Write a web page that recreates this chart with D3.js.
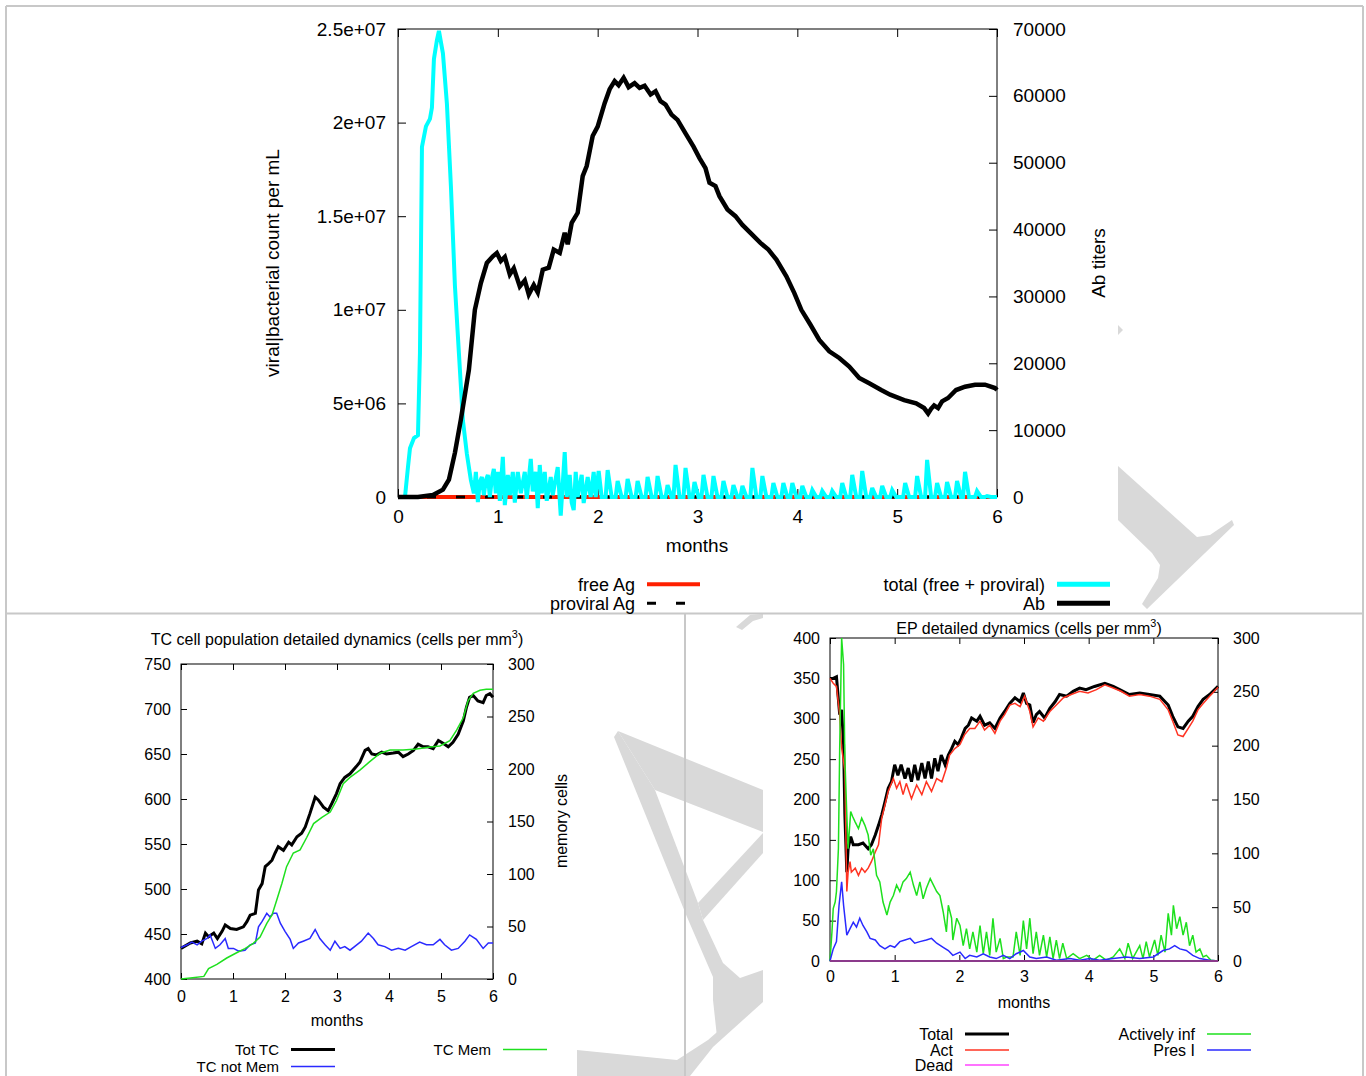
<!DOCTYPE html>
<html>
<head>
<meta charset="utf-8">
<script src="https://cdn.jsdelivr.net/npm/d3@7"></script>
<style>
  body { margin: 0; background: #fff; }
  svg text { font-family: "Liberation Sans", Arial, sans-serif; fill: #000; }
</style>
</head>
<body>
<div id="chart"></div>
<script>
// ---------- data (months, value) ----------
const monthTicks = [0, 1, 2, 3, 4, 5, 6];

// top chart: antigen (left axis) and antibody titers (right axis)
const virusTicks = [0, 5e6, 1e7, 1.5e7, 2e7, 2.5e7];
const virusTickLabels = ["0", "5e+06", "1e+07", "1.5e+07", "2e+07", "2.5e+07"];
const abTicks = [0, 10000, 20000, 30000, 40000, 50000, 60000, 70000];

const freeAg = [[0, 0], [6, 0]];
const proviralAg = [[0, 0], [6, 0]];
const totalAg = [
  [0, 0], [0.07, 0], [0.1, 1.6e6], [0.12, 2.6e6], [0.16, 3.15e6], [0.2, 3.3e6], [0.22, 7.7e6],
  [0.24, 1.87e7], [0.28, 1.98e7], [0.32, 2.02e7], [0.34, 2.08e7], [0.36, 2.34e7], [0.39, 2.44e7],
  [0.41, 2.49e7], [0.45, 2.37e7], [0.49, 2.1e7], [0.53, 1.66e7], [0.57, 1.13e7], [0.61, 7.7e6],
  [0.65, 4.1e6], [0.69, 2.3e6], [0.73, 0.9e6], [0.76, 0.2e6],
  [0.78, 1.34e6], [0.8, -0.27e6], [0.82, 0.8e6], [0.84, 1.07e6], [0.86, 0.1e6], [0.88, 0.9e6],
  [0.9, 1.18e6], [0.92, 0], [0.94, 1.0e6], [0.96, 1.5e6], [0.98, 0.2e6], [1.0, 1.34e6],
  [1.02, -0.2e6], [1.05, 2.14e6], [1.07, -0.43e6], [1.1, 1.18e6], [1.12, 0.1e6], [1.15, 1.34e6],
  [1.17, -0.3e6], [1.2, 1.34e6], [1.23, 0.2e6], [1.27, 1.34e6], [1.29, -0.1e6], [1.33, 2.03e6],
  [1.35, 0.3e6], [1.38, 1.34e6], [1.4, -0.59e6], [1.42, 1.71e6], [1.44, 0.2e6], [1.47, 1.34e6],
  [1.49, -0.2e6], [1.53, 1.07e6], [1.55, 0.1e6], [1.6, 1.6e6], [1.63, -1.0e6], [1.67, 2.4e6],
  [1.69, 0], [1.72, 1.18e6], [1.74, -0.3e6], [1.76, -0.7e6], [1.78, 1.34e6], [1.8, 0],
  [1.84, 1.18e6], [1.86, -0.32e6], [1.9, 1.07e6], [1.93, 0], [1.96, 1.34e6], [1.98, 0],
  [2.01, 1.39e6], [2.04, 0], [2.08, 0], [2.1, 1.44e6], [2.14, 0], [2.18, 0], [2.2, 0.85e6], [2.24, 0],
  [2.28, 0], [2.3, 0.96e6], [2.34, 0], [2.38, 0], [2.4, 0.85e6], [2.44, 0], [2.48, 0], [2.5, 1.07e6],
  [2.54, 0], [2.58, 0], [2.6, 1.12e6], [2.64, 0], [2.68, 0], [2.7, 0.64e6], [2.74, 0], [2.76, 0],
  [2.78, 1.71e6], [2.82, 0], [2.86, 0], [2.88, 1.55e6], [2.92, 0], [2.95, 0], [2.97, 0.8e6], [3.01, 0],
  [3.04, 0], [3.06, 1.18e6], [3.1, 0], [3.14, 0], [3.16, 1.12e6], [3.2, 0], [3.24, 0], [3.26, 0.85e6],
  [3.3, 0], [3.34, 0], [3.36, 0.64e6], [3.4, 0], [3.43, 0], [3.45, 0.59e6], [3.49, 0], [3.53, 0],
  [3.55, 1.55e6], [3.59, 0], [3.63, 0], [3.65, 1.12e6], [3.69, 0], [3.74, 0], [3.76, 0.75e6], [3.8, 0],
  [3.84, 0], [3.86, 0.75e6], [3.9, 0], [3.93, 0], [3.95, 0.75e6], [3.99, 0], [4.03, 0], [4.05, 0.59e6],
  [4.09, 0], [4.13, 0], [4.15, 0.37e6], [4.19, 0], [4.23, 0], [4.25, 0.32e6], [4.29, 0], [4.33, 0],
  [4.35, 0.32e6], [4.39, 0], [4.43, 0], [4.45, 0.75e6], [4.49, 0], [4.53, 0], [4.55, 1.18e6], [4.59, 0],
  [4.63, 0], [4.65, 1.39e6], [4.69, 0], [4.73, 0], [4.75, 0.48e6], [4.79, 0], [4.83, 0], [4.85, 0.59e6],
  [4.89, 0], [4.93, 0], [4.95, 0.37e6], [4.99, 0], [5.06, 0], [5.08, 0.75e6], [5.12, 0], [5.18, 0],
  [5.2, 1.12e6], [5.24, 0], [5.28, 0], [5.3, 1.98e6], [5.34, 0], [5.38, 0], [5.4, 0.75e6], [5.44, 0],
  [5.48, 0], [5.5, 0.8e6], [5.54, 0], [5.58, 0], [5.6, 0.85e6], [5.64, 0], [5.66, 0], [5.68, 1.34e6],
  [5.72, 0], [5.78, 0], [5.8, 0.32e6], [5.84, 0], [5.88, 0], [5.9, 0.05e6], [5.94, 0], [6, 0]
];
const abTiters = [
  [0, 0], [0.2, 0], [0.35, 300], [0.45, 1100], [0.51, 2600], [0.57, 6600], [0.63, 11600], [0.71, 19000],
  [0.77, 28000], [0.83, 32000], [0.89, 35000], [0.95, 36000], [0.99, 36500], [1.03, 35300], [1.07, 35900],
  [1.12, 33300], [1.16, 34200], [1.22, 31500], [1.27, 32400], [1.31, 30300], [1.36, 31700], [1.4, 30600],
  [1.45, 34000], [1.51, 34300], [1.56, 37000], [1.62, 36500], [1.67, 39500], [1.7, 37800], [1.74, 41000],
  [1.8, 42500], [1.85, 48000], [1.89, 49500], [1.95, 54000], [2.0, 55400], [2.07, 58900], [2.12, 61000],
  [2.17, 62200], [2.21, 61600], [2.26, 62700], [2.31, 61300], [2.37, 61900], [2.42, 61200], [2.47, 61500],
  [2.53, 60200], [2.58, 60700], [2.63, 59200], [2.68, 58700], [2.74, 57200], [2.8, 56400], [2.88, 54400],
  [2.96, 52400], [3.02, 50700], [3.08, 49200], [3.12, 47000], [3.18, 46500], [3.22, 45000], [3.3, 43000],
  [3.38, 42000], [3.45, 40700], [3.53, 39500], [3.63, 38000], [3.71, 37000], [3.79, 35500], [3.89, 33000],
  [3.97, 30500], [4.04, 28000], [4.13, 25800], [4.22, 23500], [4.32, 21800], [4.42, 20800], [4.52, 19500],
  [4.62, 17800], [4.72, 17000], [4.84, 16000], [4.93, 15300], [5.07, 14500], [5.19, 14000], [5.27, 13300],
  [5.31, 12500], [5.34, 13200], [5.37, 13700], [5.41, 13300], [5.45, 14300], [5.51, 14800], [5.59, 16000],
  [5.68, 16500], [5.78, 16800], [5.88, 16800], [5.98, 16300], [6, 16000]
];

// bottom left: TC cells (left axis) and memory cells (right axis)
const tcTicks = [400, 450, 500, 550, 600, 650, 700, 750];
const memTicks = [0, 50, 100, 150, 200, 250, 300];
const totTC = [
  [0, 434], [0.18, 440], [0.31, 442], [0.4, 439], [0.47, 451], [0.53, 447], [0.63, 451], [0.7, 445],
  [0.79, 453], [0.85, 460], [0.95, 456], [1.07, 455], [1.2, 458], [1.27, 464], [1.33, 471], [1.43, 473],
  [1.49, 499], [1.56, 506], [1.62, 525], [1.68, 528], [1.75, 532], [1.81, 540], [1.87, 547], [1.97, 543],
  [2.07, 552], [2.13, 549], [2.23, 558], [2.32, 562], [2.39, 569], [2.48, 584], [2.58, 602], [2.64, 599],
  [2.74, 591], [2.83, 587], [2.9, 595], [2.99, 606], [3.06, 617], [3.15, 624], [3.25, 628], [3.37, 636],
  [3.44, 641], [3.54, 654], [3.6, 656], [3.67, 650], [3.76, 649], [3.86, 652], [3.95, 650], [4.08, 651],
  [4.18, 652], [4.27, 647], [4.37, 650], [4.47, 654], [4.56, 661], [4.66, 658], [4.75, 658], [4.85, 656],
  [4.95, 665], [5.04, 662], [5.14, 658], [5.23, 663], [5.33, 672], [5.43, 687], [5.49, 702], [5.55, 713],
  [5.62, 715], [5.71, 709], [5.81, 707], [5.87, 715], [5.94, 717], [6, 713]
];
const tcNotMem = [
  [0, 435], [0.12, 438], [0.21, 441], [0.31, 438], [0.4, 442], [0.5, 445], [0.56, 449], [0.66, 434],
  [0.75, 438], [0.85, 445], [0.91, 434], [1.01, 434], [1.11, 431], [1.23, 432], [1.33, 438], [1.43, 440],
  [1.49, 458], [1.56, 464], [1.65, 473], [1.71, 469], [1.78, 473], [1.84, 473], [1.91, 462], [2.0, 453],
  [2.1, 444], [2.16, 434], [2.26, 440], [2.35, 442], [2.48, 445], [2.58, 455], [2.67, 445], [2.77, 438],
  [2.87, 432], [2.96, 442], [3.06, 434], [3.15, 436], [3.25, 432], [3.38, 438], [3.47, 442], [3.6, 451],
  [3.7, 445], [3.79, 438], [3.92, 436], [4.05, 432], [4.18, 434], [4.31, 432], [4.43, 436], [4.59, 441],
  [4.72, 438], [4.85, 438], [4.98, 444], [5.07, 438], [5.2, 432], [5.33, 434], [5.46, 442], [5.55, 449],
  [5.68, 444], [5.81, 434], [5.91, 440], [6, 440]
];
const tcMem = [
  [0, 0], [0.18, 1], [0.44, 2.5], [0.53, 10], [0.69, 14], [0.88, 20], [1.07, 25], [1.23, 29], [1.39, 34],
  [1.52, 40], [1.65, 53], [1.75, 61], [1.84, 75], [1.94, 91], [2.03, 107], [2.16, 120], [2.29, 123],
  [2.42, 135], [2.55, 148], [2.71, 154], [2.87, 159], [2.99, 170], [3.12, 186], [3.25, 192], [3.44, 199],
  [3.63, 207], [3.83, 215], [4.02, 218], [4.27, 218], [4.53, 219], [4.79, 221], [4.98, 222], [5.17, 227],
  [5.3, 237], [5.43, 249], [5.52, 265], [5.62, 272], [5.75, 275], [5.87, 276], [6, 276]
];

// bottom right: EP cells
const epTicks = [0, 50, 100, 150, 200, 250, 300, 350, 400];
const epRightTicks = [0, 50, 100, 150, 200, 250, 300];
const epTotal = [
  [0, 350], [0.05, 350], [0.1, 352], [0.15, 305], [0.18, 311], [0.21, 268], [0.23, 181], [0.26, 110],
  [0.28, 139], [0.32, 154], [0.36, 144], [0.44, 144], [0.51, 146], [0.59, 139], [0.64, 144], [0.7, 156],
  [0.75, 168], [0.8, 181], [0.85, 197], [0.9, 214], [0.95, 222], [1.0, 243], [1.05, 230], [1.1, 243],
  [1.16, 226], [1.21, 239], [1.26, 222], [1.31, 243], [1.36, 224], [1.42, 245], [1.47, 226], [1.52, 247],
  [1.57, 226], [1.62, 251], [1.67, 235], [1.72, 255], [1.78, 243], [1.83, 255], [1.88, 263], [1.93, 272],
  [1.98, 268], [2.03, 276], [2.09, 288], [2.14, 292], [2.19, 301], [2.27, 297], [2.32, 303], [2.39, 292],
  [2.47, 295], [2.55, 288], [2.63, 301], [2.7, 309], [2.78, 319], [2.86, 326], [2.94, 321], [2.99, 332],
  [3.04, 319], [3.09, 317], [3.14, 295], [3.19, 305], [3.24, 309], [3.32, 301], [3.4, 313], [3.48, 321],
  [3.55, 330], [3.66, 328], [3.76, 334], [3.86, 338], [3.96, 336], [4.09, 340], [4.25, 344], [4.38, 340],
  [4.48, 336], [4.63, 330], [4.79, 332], [4.94, 330], [5.1, 328], [5.23, 317], [5.3, 303], [5.38, 290],
  [5.46, 288], [5.54, 297], [5.61, 303], [5.69, 315], [5.77, 324], [5.87, 330], [6, 340]
];
const epAct = [
  [0, 350], [0.05, 344], [0.1, 340], [0.15, 305], [0.18, 264], [0.21, 247], [0.23, 235], [0.26, 86],
  [0.28, 110], [0.31, 123], [0.33, 110], [0.39, 115], [0.44, 106], [0.49, 115], [0.54, 110], [0.59, 115],
  [0.64, 123], [0.7, 135], [0.75, 144], [0.8, 177], [0.85, 193], [0.9, 210], [0.98, 226], [1.03, 214],
  [1.08, 222], [1.13, 206], [1.18, 220], [1.26, 201], [1.34, 218], [1.42, 206], [1.49, 222], [1.57, 210],
  [1.65, 226], [1.73, 222], [1.8, 239], [1.85, 255], [1.93, 263], [2.01, 268], [2.08, 280], [2.16, 288],
  [2.24, 288], [2.32, 297], [2.39, 286], [2.47, 292], [2.55, 282], [2.63, 297], [2.7, 305], [2.78, 317],
  [2.86, 319], [2.94, 315], [3.01, 328], [3.09, 309], [3.14, 290], [3.22, 301], [3.3, 297], [3.4, 309],
  [3.5, 317], [3.61, 326], [3.73, 330], [3.86, 334], [3.99, 332], [4.12, 336], [4.25, 342], [4.38, 338],
  [4.5, 334], [4.63, 328], [4.79, 330], [4.94, 328], [5.1, 324], [5.23, 311], [5.3, 297], [5.38, 280],
  [5.46, 278], [5.54, 288], [5.61, 297], [5.69, 311], [5.77, 319], [5.87, 328], [6, 339]
];
const epDead = [[0, 0], [6, 0]];
const epActInf = [
  [0, 0], [0.03, 36], [0.05, 65], [0.08, 73], [0.1, 86], [0.13, 139], [0.15, 264], [0.18, 400], [0.21, 367],
  [0.23, 251], [0.26, 181], [0.28, 139], [0.32, 185], [0.35, 179], [0.39, 172], [0.44, 164], [0.49, 177],
  [0.54, 168], [0.59, 156], [0.63, 131], [0.67, 139], [0.72, 106], [0.77, 98], [0.82, 73], [0.88, 57],
  [0.93, 73], [0.98, 81], [1.03, 94], [1.08, 86], [1.13, 98], [1.18, 102], [1.24, 110], [1.29, 94],
  [1.34, 81], [1.39, 98], [1.44, 77], [1.49, 90], [1.55, 102], [1.6, 94], [1.65, 86], [1.7, 81], [1.75, 61],
  [1.8, 36], [1.83, 69], [1.88, 53], [1.9, 26], [1.96, 53], [2.01, 44], [2.06, 19], [2.11, 40], [2.16, 15],
  [2.21, 36], [2.27, 11], [2.32, 44], [2.37, 9], [2.42, 36], [2.47, 7], [2.52, 53], [2.57, 11], [2.63, 28],
  [2.68, 3], [2.73, 5], [2.83, 5], [2.88, 36], [2.94, 7], [2.99, 50], [3.04, 15], [3.09, 53], [3.14, 9],
  [3.19, 36], [3.24, 7], [3.3, 32], [3.35, 5], [3.4, 30], [3.45, 3], [3.5, 26], [3.55, 3], [3.6, 22],
  [3.66, 3], [3.76, 9], [3.86, 3], [3.97, 7], [4.07, 1], [4.17, 7], [4.27, 1], [4.38, 5], [4.48, 15],
  [4.56, 3], [4.61, 22], [4.68, 3], [4.79, 19], [4.84, 3], [4.89, 24], [4.94, 5], [5.02, 26], [5.07, 7],
  [5.12, 32], [5.18, 11], [5.23, 59], [5.28, 32], [5.31, 69], [5.36, 40], [5.41, 55], [5.46, 32],
  [5.51, 48], [5.56, 19], [5.61, 32], [5.66, 11], [5.72, 15], [5.77, 5], [5.82, 7], [5.89, 1], [6, 0]
];
const epPresI = [
  [0, 0], [0.05, 15], [0.1, 24], [0.14, 69], [0.18, 98], [0.21, 69], [0.26, 32], [0.31, 40], [0.36, 48],
  [0.41, 42], [0.46, 53], [0.51, 44], [0.57, 36], [0.62, 28], [0.70, 26], [0.77, 19], [0.85, 15], [0.93, 19],
  [1.0, 17], [1.08, 24], [1.16, 26], [1.24, 28], [1.31, 22], [1.39, 24], [1.49, 26], [1.57, 28], [1.65, 22],
  [1.75, 17], [1.83, 13], [1.9, 7], [2.01, 11], [2.09, 3], [2.16, 7], [2.27, 5], [2.37, 9], [2.47, 5],
  [2.57, 3], [2.68, 7], [2.78, 3], [2.88, 9], [2.99, 13], [3.09, 5], [3.19, 3], [3.35, 5], [3.5, 1],
  [3.71, 3], [3.86, 1], [4.02, 3], [4.17, 1], [4.38, 3], [4.58, 5], [4.79, 3], [5.0, 5], [5.15, 13],
  [5.25, 15], [5.33, 19], [5.41, 15], [5.51, 13], [5.61, 7], [5.72, 3], [5.87, 1], [6, 0]
];

// ---------- drawing ----------
const svg = d3.select("#chart").append("svg")
    .attr("width", 1366)
    .attr("height", 1076);

// grey watermark shapes showing between the panels
const watermark = [
  [[614, 737], [618, 731], [655, 790], [698, 903], [703, 920], [723, 963], [740, 978], [763, 970],
   [763, 995], [717, 1037], [713, 1000], [713, 977], [687, 917]],
  [[618, 731], [763, 790], [763, 832], [655, 790]],
  [[698, 903], [763, 833], [763, 853], [703, 920]],
  [[577, 1050], [677, 1060], [708, 1040], [763, 992], [763, 1002], [713, 1047], [690, 1076], [577, 1076]],
  [[1118, 466], [1197, 537], [1210, 535], [1232, 520], [1234, 525], [1147, 609], [1142, 604],
   [1158, 578], [1160, 565], [1152, 553], [1118, 520]],
  [[1118, 325], [1123, 330], [1118, 335]],
  [[736, 627], [742, 630], [753, 621], [763, 618], [763, 614], [750, 615]]
];
svg.selectAll(".wm").data(watermark).enter().append("polygon")
    .attr("points", d => d.join(" "))
    .attr("fill", "#d9d9d9");

// panel borders
const frameColor = "#c8c8c8";
[[6, 6, 1363, 6], [6, 6, 6, 1076], [1363, 6, 1363, 1076], [6, 613.5, 1363, 613.5], [685, 613.5, 685, 1076]]
  .forEach(l => svg.append("line")
    .attr("x1", l[0]).attr("y1", l[1]).attr("x2", l[2]).attr("y2", l[3])
    .attr("stroke", frameColor).attr("stroke-width", 2));

// axes with inward gnuplot-style ticks on all four sides
function drawAxes(x, yL, yR, o) {
  const g = svg.append("g");
  const [x0, x1] = x.range();
  const [y0, y1] = yL.range();
  const fix = a => a.call(s => s.select(".domain").remove())
      .attr("font-size", o.fs).attr("font-family", "Liberation Sans, Arial, sans-serif");

  g.append("g").attr("transform", `translate(0,${y0})`)
    .call(d3.axisBottom(x).tickValues(monthTicks).tickFormat(d3.format("d"))
      .tickSizeInner(-o.tick).tickSizeOuter(0).tickPadding(o.padB))
    .call(fix);
  g.append("g").attr("transform", `translate(0,${y1})`)
    .call(d3.axisTop(x).tickValues(monthTicks).tickFormat("")
      .tickSizeInner(-o.tick).tickSizeOuter(0))
    .call(fix);
  g.append("g").attr("transform", `translate(${x0},0)`)
    .call(d3.axisLeft(yL).tickValues(o.lTicks).tickFormat((d, i) => o.lLabels ? o.lLabels[i] : d)
      .tickSizeInner(-o.tick).tickSizeOuter(0).tickPadding(o.padL))
    .call(fix);
  g.append("g").attr("transform", `translate(${x1},0)`)
    .call(d3.axisRight(yR).tickValues(o.rTicks).tickFormat(d3.format("d"))
      .tickSizeInner(-o.tick).tickSizeOuter(0).tickPadding(o.padR))
    .call(fix);

  g.append("rect")
    .attr("x", x0).attr("y", y1).attr("width", x1 - x0).attr("height", y0 - y1)
    .attr("fill", "none").attr("stroke", "#000").attr("stroke-width", 1);
  return g;
}

function drawLine(x, y, data, color, width, dash) {
  svg.append("path").datum(data)
    .attr("fill", "none")
    .attr("stroke", color)
    .attr("stroke-width", width)
    .attr("stroke-linejoin", "miter")
    .attr("stroke-miterlimit", 3)
    .attr("stroke-dasharray", dash || null)
    .attr("d", d3.line().x(d => x(d[0])).y(d => y(d[1])));
}

function text(x, y, s, fs, anchor, rotate) {
  return svg.append("text")
    .attr("transform", `translate(${x},${y})` + (rotate ? " rotate(-90)" : ""))
    .attr("text-anchor", anchor || "middle")
    .attr("font-size", fs)
    .text(s);
}

function legendItem(tx, ty, label, color, width, len, fs, dash) {
  text(tx, ty, label, fs, "end");
  svg.append("line")
    .attr("x1", tx + 12).attr("x2", tx + 12 + len)
    .attr("y1", ty - fs * 0.37).attr("y2", ty - fs * 0.37)
    .attr("stroke", color).attr("stroke-width", width)
    .attr("stroke-dasharray", dash || null);
}

function superTitle(x, y, s, fs) {
  const t = svg.append("text").attr("x", x).attr("y", y)
    .attr("text-anchor", "middle").attr("font-size", fs);
  t.append("tspan").text(s);
  t.append("tspan").attr("dy", -7).attr("font-size", fs * 0.68).text("3");
  t.append("tspan").attr("dy", 7).text(")");
}

// ---- top chart ----
const xTop = d3.scaleLinear().domain([0, 6]).range([398, 997]);
const yVirus = d3.scaleLinear().domain([0, 2.5e7]).range([497, 29]);
const yAb = d3.scaleLinear().domain([0, 70000]).range([497, 29]);

drawAxes(xTop, yVirus, yAb, {
  fs: 19, tick: 8, padB: 13, padL: 12, padR: 16,
  lTicks: virusTicks, lLabels: virusTickLabels, rTicks: abTicks
});
drawLine(xTop, yVirus, freeAg, "#ff2000", 4);
drawLine(xTop, yVirus, proviralAg, "#000", 3, "9,20");
drawLine(xTop, yVirus, totalAg, "#00ffff", 4);
drawLine(xTop, yAb, abTiters, "#000", 4.5);

text(279, 263, "viral|bacterial count per mL", 19, "middle", true);
text(1105, 263, "Ab titers", 19, "middle", true);
text(697, 552, "months", 19);

legendItem(635, 591, "free Ag", "#ff2000", 4, 53, 18);
legendItem(635, 610, "proviral Ag", "#000", 3, 53, 18, "9,20");
legendItem(1045, 591, "total (free + proviral)", "#00ffff", 5, 53, 18);
legendItem(1045, 610, "Ab", "#000", 5, 53, 18);

// ---- bottom left: TC cells ----
const xTC = d3.scaleLinear().domain([0, 6]).range([181, 493]);
const yTC = d3.scaleLinear().domain([400, 750]).range([979, 664]);
const yMem = d3.scaleLinear().domain([0, 300]).range([979, 664]);

drawAxes(xTC, yTC, yMem, {
  fs: 16, tick: 6, padB: 12, padL: 10, padR: 15,
  lTicks: tcTicks, rTicks: memTicks
});
drawLine(xTC, yTC, totTC, "#000", 3);
drawLine(xTC, yTC, tcNotMem, "#2a2aff", 1.5);
drawLine(xTC, yMem, tcMem, "#1ee01e", 1.5);

superTitle(337, 645, "TC cell population detailed dynamics (cells per mm", 16);
text(567, 821, "memory cells", 16, "middle", true);
text(337, 1026, "months", 16);

legendItem(279, 1055, "Tot TC", "#000", 3, 44, 15);
legendItem(279, 1072, "TC not Mem", "#2a2aff", 1.5, 44, 15);
legendItem(491, 1055, "TC Mem", "#1ee01e", 1.5, 44, 15);

// ---- bottom right: EP cells ----
const xEP = d3.scaleLinear().domain([0, 6]).range([830, 1218]);
const yEP = d3.scaleLinear().domain([0, 400]).range([961, 638]);
const yEPRight = d3.scaleLinear().domain([0, 300]).range([961, 638]);

drawAxes(xEP, yEP, yEPRight, {
  fs: 16, tick: 6, padB: 10, padL: 10, padR: 15,
  lTicks: epTicks, rTicks: epRightTicks
});
drawLine(xEP, yEP, epTotal, "#000", 3);
drawLine(xEP, yEP, epAct, "#ff3322", 1.5);
drawLine(xEP, yEP, epActInf, "#1ee01e", 1.5);
drawLine(xEP, yEP, epPresI, "#2a2aff", 1.5);
drawLine(xEP, yEP, epDead, "#8b3a8b", 2);

superTitle(1029, 634, "EP detailed dynamics (cells per mm", 16);
text(1024, 1008, "months", 16);

legendItem(953, 1040, "Total", "#000", 3, 44, 16);
legendItem(953, 1056, "Act", "#ff3322", 1.5, 44, 16);
legendItem(953, 1071, "Dead", "#ff44ff", 1.5, 44, 16);
legendItem(1195, 1040, "Actively inf", "#1ee01e", 1.5, 44, 16);
legendItem(1195, 1056, "Pres I", "#2a2aff", 1.5, 44, 16);
</script>
</body>
</html>
